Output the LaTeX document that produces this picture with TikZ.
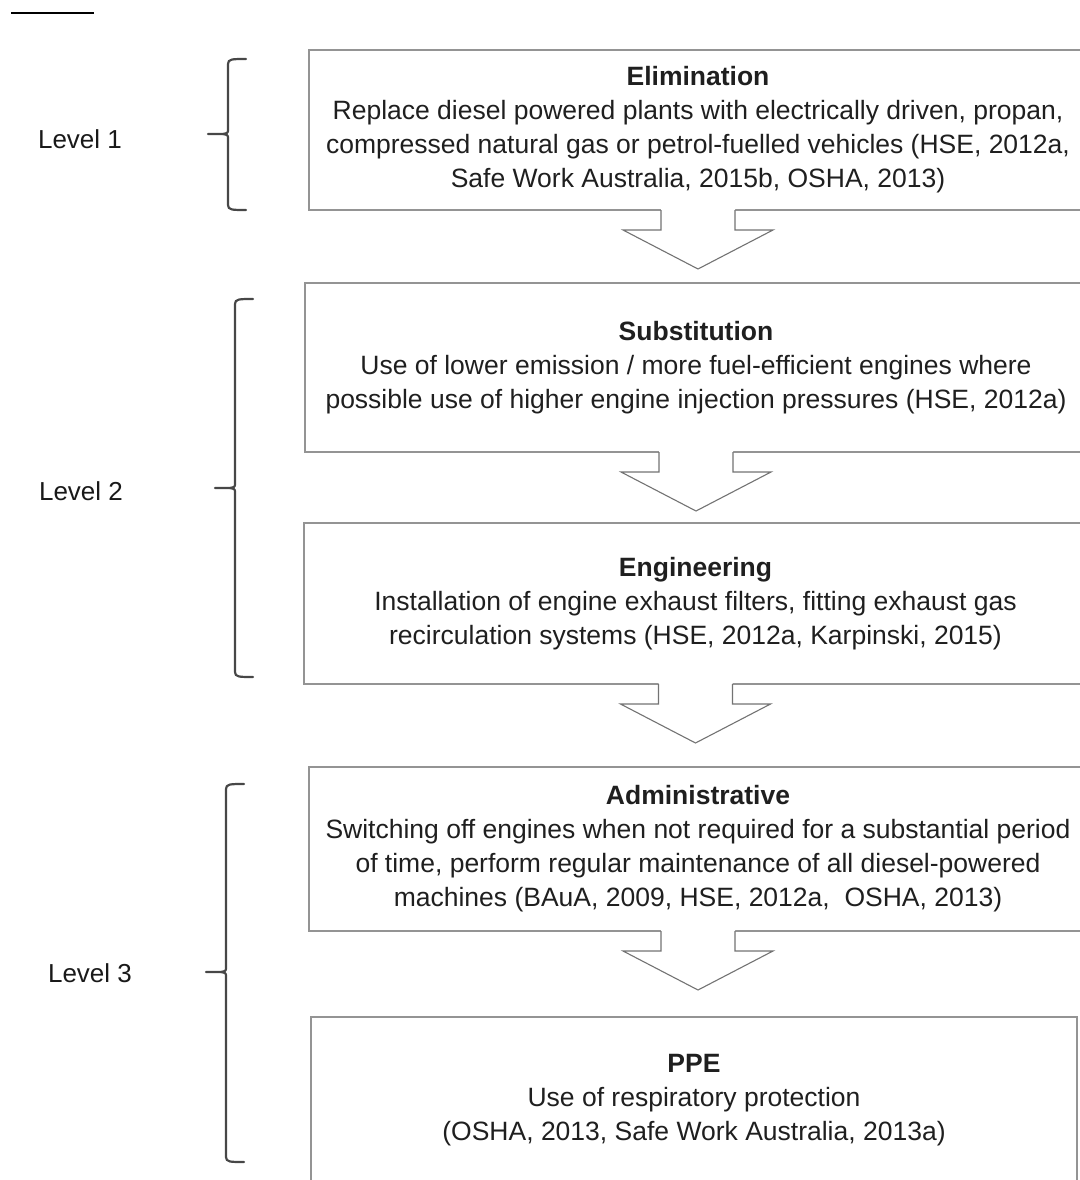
\documentclass[tikz,border=0pt]{standalone}
\usepackage{fontspec}
\setmainfont{Liberation Sans}
\usetikzlibrary{calc}
\begin{document}
\begin{tikzpicture}[x=1pt,y=-1pt,
  every node/.style={inner sep=0pt, outer sep=0pt},
  stagebox/.style={draw=black!42, line width=1.8pt, align=center,
    font=\fontsize{26.5}{34}\selectfont, text=black!88},
  levellabel/.style={font=\fontsize{26}{30}\selectfont, text=black!90},
  bracket/.style={draw=black!72, line width=2.2pt, line join=round, line cap=round},
  arrowline/.style={draw=black!55, line width=1.1pt, line join=miter},
  flowarrow/.pic={
    \fill[white] (-37,-1) -- (-37,20) -- (-75,20) -- (0,59) -- (75,20) -- (37,20) -- (37,-1) -- cycle;
    \draw[arrowline] (-37,0) -- (-37,20) -- (-75,20) -- (0,59) -- (75,20) -- (37,20) -- (37,0);
  }]
\useasboundingbox (0,0) rectangle (1079,1180);

% short rule at the top left
\draw[black, line width=2pt] (11,13) -- (94,13);

% control stages
\node[stagebox, minimum width=778, minimum height=160] (elim) at (698,130)
  {\textbf{Elimination}\\
   Replace diesel powered plants with electrically driven, propan,\\
   compressed natural gas or petrol-fuelled vehicles (HSE, 2012a,\\
   Safe Work Australia, 2015b, OSHA, 2013)};
\node[stagebox, minimum width=782, minimum height=169] (subst) at (696,367.5)
  {\textbf{Substitution}\\
   Use of lower emission / more fuel-efficient engines where\\
   possible use of higher engine injection pressures (HSE, 2012a)};
\node[stagebox, minimum width=783, minimum height=161] (eng) at (695.5,603.5)
  {\textbf{Engineering}\\
   Installation of engine exhaust filters, fitting exhaust gas\\
   recirculation systems (HSE, 2012a, Karpinski, 2015)};
\node[stagebox, minimum width=778, minimum height=164] (admin) at (698,849)
  {\textbf{Administrative}\\
   Switching off engines when not required for a substantial period\\
   of time, perform regular maintenance of all diesel-powered\\
   machines (BAuA, 2009, HSE, 2012a,~ OSHA, 2013)};
\node[stagebox, minimum width=766, minimum height=166] (ppe) at (694,1100)
  {\textbf{PPE}\\
   Use of respiratory protection\\
   (OSHA, 2013, Safe Work Australia, 2013a)};

% block arrows between the stages
\pic at (elim.south) {flowarrow};
\pic at (subst.south) {flowarrow};
\pic at (eng.south) {flowarrow};
\pic at (admin.south) {flowarrow};

% level braces
\coordinate (b1top) at (228,59);   \coordinate (b1mid) at (228,134);  \coordinate (b1bot) at (228,210);
\coordinate (b2top) at (235,299);  \coordinate (b2mid) at (235,488);  \coordinate (b2bot) at (235,677);
\coordinate (b3top) at (226,784);  \coordinate (b3mid) at (226,972);  \coordinate (b3bot) at (226,1162);

\foreach \b in {b1,b2,b3}{
  \draw[bracket] ($(\b top)+(18,0)$) .. controls ($(\b top)+(4,0)$) and ($(\b top)+(0,0)$) .. ($(\b top)+(0,5)$)
     -- ($(\b mid)+(0,-5)$) .. controls ($(\b mid)+(0,-1)$) .. ($(\b mid)+(-5,0)$) -- ($(\b mid)+(-20,0)$);
  \draw[bracket] ($(\b mid)+(-5,0)$) .. controls ($(\b mid)+(0,1)$) .. ($(\b mid)+(0,5)$)
     -- ($(\b bot)+(0,-5)$) .. controls ($(\b bot)+(0,0)$) and ($(\b bot)+(4,0)$) .. ($(\b bot)+(18,0)$);
}

\node[levellabel] (lv1) at (80,139) {Level 1};
\node[levellabel] (lv2) at (81,491) {Level 2};
\node[levellabel] (lv3) at (90,973) {Level 3};
\end{tikzpicture}
\end{document}
